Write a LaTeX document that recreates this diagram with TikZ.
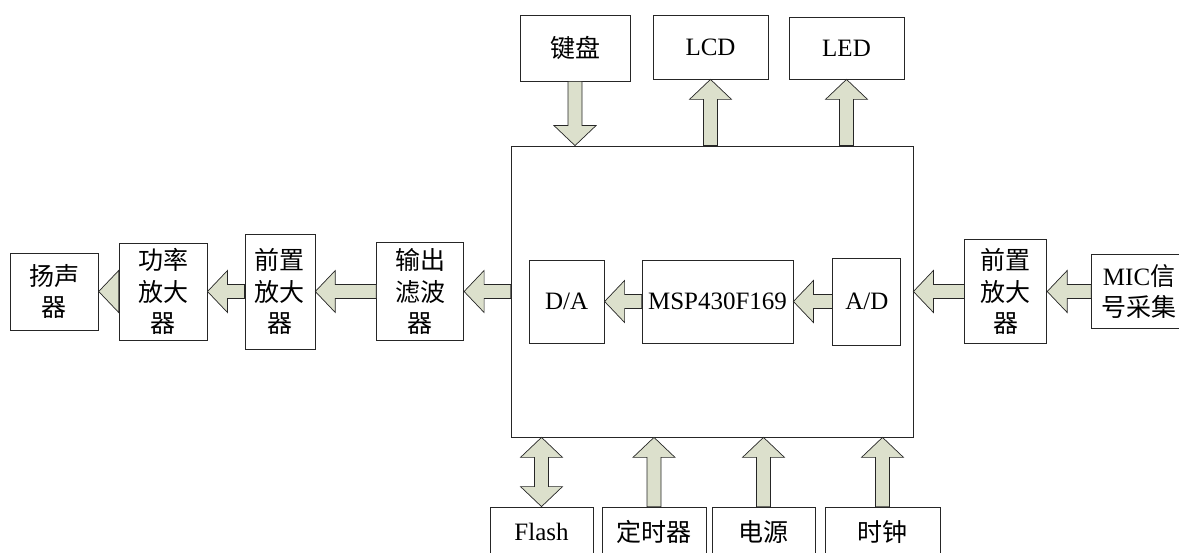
\documentclass[tikz,border=0pt]{standalone}
\usepackage{fontspec}
\setmainfont{Liberation Serif}
\newfontfamily\cjk{Noto Sans CJK SC}
\usepackage{tikz}
\usetikzlibrary{calc,positioning}

\definecolor{arrowfill}{RGB}{220,224,204}

\begin{document}
\begin{tikzpicture}[
  x=1pt, y=-1pt,
  every node/.style={align=center, font=\fontsize{25}{31.5}\selectfont},
  box/.style={rectangle, draw=black!85, line width=0.8pt, fill=white, inner sep=0pt},
  cn/.style={font=\cjk\fontsize{25}{31.5}\selectfont},
  fatarrow/.style={fill=arrowfill, draw=black!85, line width=0.7pt, line join=miter, to path={
    ($(\tikztostart)!7pt!90:(\tikztotarget)$)
    -- ($(\tikztotarget)!21.19pt!-19.29:(\tikztostart)$)
    -- ($(\tikztotarget)!29pt!-46.4:(\tikztostart)$)
    -- (\tikztotarget)
    -- ($(\tikztotarget)!29pt!46.4:(\tikztostart)$)
    -- ($(\tikztotarget)!21.19pt!19.29:(\tikztostart)$)
    -- ($(\tikztostart)!7pt!-90:(\tikztotarget)$) -- cycle}},
  fatboth/.style={fill=arrowfill, draw=black!85, line width=0.7pt, line join=miter, to path={
    (\tikztostart)
    -- ($(\tikztostart)!29pt!46.4:(\tikztotarget)$)
    -- ($(\tikztostart)!21.19pt!19.29:(\tikztotarget)$)
    -- ($(\tikztotarget)!21.19pt!-19.29:(\tikztostart)$)
    -- ($(\tikztotarget)!29pt!-46.4:(\tikztostart)$)
    -- (\tikztotarget)
    -- ($(\tikztotarget)!29pt!46.4:(\tikztostart)$)
    -- ($(\tikztotarget)!21.19pt!19.29:(\tikztostart)$)
    -- ($(\tikztostart)!21.19pt!-19.29:(\tikztotarget)$)
    -- ($(\tikztostart)!29pt!-46.4:(\tikztotarget)$) -- cycle}}
]
\useasboundingbox (0,0) rectangle (1179,553);

% controller and the parts inside it
\node[box, minimum width=402pt, minimum height=291pt] (mcu) at (712,291.5) {};
\node[box, minimum width=151pt, minimum height=83pt] (msp) at (717.5,301.5) {MSP430F169};
\node[box, minimum width=75pt, minimum height=83pt, left=37pt of msp] (da) {D/A};
\node[box, minimum width=68pt, minimum height=87pt, right=39pt of msp] (ad) {A/D};

% output chain
\node[box, cn, minimum width=87pt, minimum height=98pt, left=46.5pt of mcu] (filt) {输出\\滤波\\器};
\node[box, cn, minimum width=70pt, minimum height=115pt, left=61pt of filt] (pre1) {前置\\放大\\器};
\node[box, cn, minimum width=88pt, minimum height=97pt, left=37pt of pre1] (pamp) {功率\\放大\\器};
\node[box, cn, minimum width=88pt, minimum height=77pt, left=20pt of pamp] (spk) {扬声\\器};

% input chain
\node[box, cn, minimum width=82pt, minimum height=104pt, right=51pt of mcu] (pre2) {前置\\放大\\器};
\node[box, minimum width=95pt, minimum height=74pt, right=44pt of pre2] (mic) {MIC\cjk 信\\\cjk 号采集};

% top row
\node[box, cn, minimum width=110pt, minimum height=66pt] (kbd) at (575,48) {键盘};
\node[box, minimum width=115pt, minimum height=64pt] (lcd) at (710.5,47) {LCD};
\node[box, minimum width=115pt, minimum height=62pt] (led) at (846.5,48) {LED};

% bottom row
\node[box, minimum width=103pt, minimum height=50pt] (flash) at (541.5,532) {Flash};
\node[box, cn, minimum width=104pt, minimum height=50pt] (timer) at (654,532) {定时器};
\node[box, cn, minimum width=103pt, minimum height=50pt] (power) at (763.5,532) {电源};
\node[box, cn, minimum width=115pt, minimum height=50pt] (clock) at (882.5,532) {时钟};

\draw[fatarrow] (kbd.south) to (kbd.south |- mcu.north);
\draw[fatarrow] (lcd.south |- mcu.north) to (lcd.south);
\draw[fatarrow] (led.south |- mcu.north) to (led.south);
\draw[fatboth] (flash.north) to (flash.north |- mcu.south);
\draw[fatarrow] (timer.north) to (timer.north |- mcu.south);
\draw[fatarrow] (power.north) to (power.north |- mcu.south);
\draw[fatarrow] (clock.north) to (clock.north |- mcu.south);

\draw[fatarrow] (mic.west) to (pre2.east);
\draw[fatarrow] (pre2.west) to (mcu.east |- pre2.west);
\draw[fatarrow] (ad.west) to (msp.east);
\draw[fatarrow] (msp.west) to (da.east);
\draw[fatarrow] (mcu.west |- filt.east) to (filt.east);
\draw[fatarrow] (filt.west) to (pre1.east);
\draw[fatarrow] (pre1.west) to (pamp.east);
\draw[fatarrow] (pamp.west) to (spk.east);

\end{tikzpicture}
\end{document}
